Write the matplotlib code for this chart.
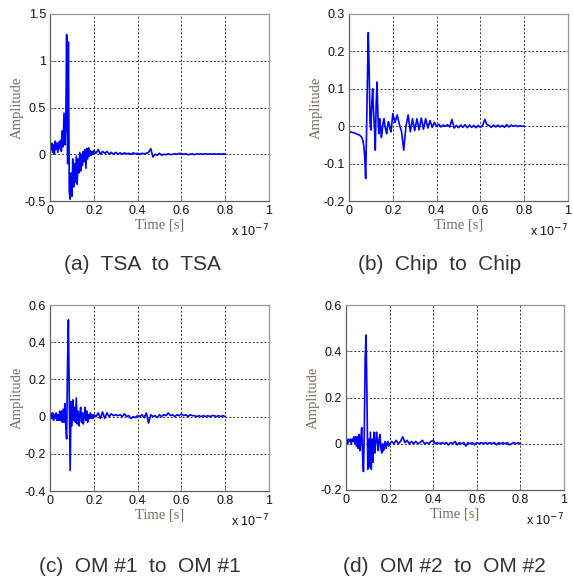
import numpy as np
import matplotlib
matplotlib.use("Agg")
import matplotlib.pyplot as plt

# time grid in units of 1e-7 s
t_early = np.round(np.arange(0, 51) * 0.004, 3)
t_late = np.round(0.21 + np.arange(0, 60) * 0.01, 3)
time = np.concatenate([t_early, t_late])

tsa_early = [0.10, 0.05, 0.12, 0.02, 0.10, 0.00, 0.14, 0.05, 0.12, 0.02,
             0.13, 0.06, 0.15, 0.03, 0.25, 0.08, 0.44, 0.10, 0.30, 1.28,
             -0.10, 1.20, -0.40, -0.48, -0.20, -0.45, -0.05, -0.35, -0.10, -0.30,
             -0.02, -0.32, -0.05, -0.20, 0.02, -0.18, 0.00, -0.12, 0.03, -0.08,
             0.05, -0.15, 0.06, -0.05, 0.07, -0.02, 0.04, -0.01, 0.03, 0.00, 0.04]
tsa_late = [0.01, 0.05, 0.0, 0.03, 0.01, 0.03, 0.0, 0.02, 0.0, 0.02,
            0.0, 0.015, 0.0, 0.015, 0.005, 0.01, 0.0, 0.015, 0.005, 0.01,
            0.0, 0.01, 0.005, 0.01, 0.02, 0.06, -0.03, 0.0, -0.01, 0.01,
            -0.01, 0.0, -0.005, 0.005, -0.005, 0.0, 0.005, 0.0, 0.01, 0.005,
            0.0, 0.005, -0.005, 0.0, 0.005, -0.005, 0.005, 0.0, 0.005, 0.0,
            0.005, 0.0, 0.005, 0.0, 0.005, 0.0, 0.005, 0.0, 0.005, 0.0]

chip_early = [-0.015, -0.015, -0.016, -0.016, -0.017, -0.017, -0.018, -0.019, -0.020, -0.021,
              -0.022, -0.023, -0.024, -0.026, -0.028, -0.032, -0.040, -0.055, -0.085, -0.140,
              -0.020, 0.120, 0.250, 0.150, 0.010, -0.010, 0.060, 0.100, 0.040, 0.000,
              -0.064, 0.060, 0.118, 0.030, -0.020, 0.020, 0.000, -0.030, -0.010, 0.010,
              0.020, 0.000, -0.010, -0.020, 0.000, 0.012, 0.005, -0.010, -0.015, 0.010, 0.034]
chip_late = [0.010, 0.030, 0.005, -0.015, -0.064, 0.000, 0.030, -0.015, 0.020, -0.012,
             0.020, -0.010, 0.022, -0.008, 0.020, -0.005, 0.015, -0.003, 0.010, 0.000,
             0.005, -0.002, 0.003, 0.000, 0.004, -0.002, 0.018, -0.005, 0.002, -0.004,
             0.003, -0.003, 0.004, -0.004, 0.003, -0.003, 0.002, -0.004, 0.002, -0.003,
             0.002, 0.018, 0.004, 0.002, -0.003, 0.003, -0.002, 0.003, -0.002, 0.002,
             -0.003, 0.004, -0.002, 0.003, 0.000, 0.002, -0.001, 0.001, 0.000, 0.000]

om1_early = [0.00, 0.02, -0.01, 0.02, -0.02, 0.01, -0.01, 0.02, -0.02, 0.01,
             -0.02, 0.03, -0.02, 0.03, -0.03, 0.04, -0.03, 0.07, -0.05, -0.12,
             0.28, 0.52, 0.10, -0.29, 0.08, -0.05, 0.09, -0.02, 0.05, -0.03,
             0.10, -0.04, 0.03, -0.05, 0.01, 0.05, -0.03, 0.02, -0.04, 0.00,
             0.05, -0.02, 0.03, -0.03, 0.01, -0.01, 0.02, -0.01, 0.01, -0.01, 0.01]
om1_late = [0.00, 0.02, -0.01, 0.025, -0.01, 0.02, 0.00, 0.015, 0.005, 0.01,
            0.005, 0.01, 0.00, 0.015, 0.00, 0.005, -0.01, 0.00, -0.005, 0.005,
            0.0, 0.01, -0.005, 0.02, -0.035, 0.01, 0.0, 0.005, -0.005, 0.01,
            0.0, 0.01, 0.005, 0.02, 0.005, 0.01, 0.0, 0.01, 0.005, 0.015,
            0.005, 0.01, 0.0, 0.01, 0.005, 0.005, 0.0, 0.005, 0.0, 0.005,
            0.0, 0.005, 0.0, 0.005, 0.005, 0.0, 0.005, 0.0, 0.005, 0.0]

om2_early = [0.01, 0.02, 0.00, 0.02, 0.01, 0.02, 0.00, 0.02, 0.01, 0.03,
             0.00, 0.03, -0.01, 0.03, -0.02, 0.04, -0.03, 0.02, 0.07, -0.05,
             -0.12, 0.05, 0.37, 0.47, 0.22, -0.11, 0.02, -0.10, 0.05, -0.11,
             0.02, -0.08, 0.05, -0.04, 0.00, 0.05, 0.01, -0.03, 0.02, 0.04,
             -0.02, -0.04, 0.00, -0.03, -0.01, 0.01, -0.02, 0.00, 0.01, -0.01, 0.00]
om2_late = [0.01, 0.00, 0.015, 0.0, 0.01, 0.03, 0.005, 0.015, 0.0, 0.01,
            0.0, 0.01, 0.0, 0.005, 0.015, 0.0, 0.005, 0.0, 0.01, 0.015,
            0.0, 0.005, 0.0, 0.005, 0.0, 0.005, -0.005, 0.005, 0.0, 0.01,
            -0.005, 0.005, 0.0, 0.005, -0.01, 0.005, 0.0, 0.005, -0.005, 0.005,
            0.0, 0.005, 0.0, 0.005, 0.0, 0.005, 0.0, 0.005, -0.005, 0.005,
            0.0, 0.005, 0.0, 0.005, -0.005, 0.0, 0.005, 0.0, 0.005, 0.0]

series = [tsa_early + tsa_late, chip_early + chip_late,
          om1_early + om1_late, om2_early + om2_late]
captions = ["(a)  TSA  to  TSA", "(b)  Chip  to  Chip",
            "(c)  OM #1  to  OM #1", "(d)  OM #2  to  OM #2"]
ylims = [(-0.5, 1.5), (-0.2, 0.3), (-0.4, 0.6), (-0.2, 0.6)]
yticks = [[-0.5, 0, 0.5, 1, 1.5],
          [-0.2, -0.1, 0, 0.1, 0.2, 0.3],
          [-0.4, -0.2, 0, 0.2, 0.4, 0.6],
          [-0.2, 0, 0.2, 0.4, 0.6]]
xticks = [0, 0.2, 0.4, 0.6, 0.8, 1]

W, H = 573, 583
fig = plt.figure(figsize=(W / 100, H / 100), dpi=100)
# axes boxes in pixels: left, top, right, bottom
boxes = [(50, 14, 269, 201), (349, 14, 568, 201),
         (50, 305, 269, 491), (346, 305, 564, 490)]
cap_pos = [(142, 265), (440, 265), (140, 567), (444, 567)]

def fmt(v):
    return "%g" % v

for i in range(4):
    l, tp, r, b = boxes[i]
    ax = fig.add_axes([l / W, 1 - b / H, (r - l) / W, (b - tp) / H])
    ax.plot(time, series[i], color="#0000ff", lw=1.2)
    ax.set_xlim(0, 1)
    ax.set_ylim(*ylims[i])
    ax.set_xticks(xticks)
    ax.set_xticklabels([fmt(v) for v in xticks])
    ax.set_yticks(yticks[i])
    ax.set_yticklabels([fmt(v) for v in yticks[i]])
    ax.grid(True, color="#333333", linestyle=(0, (2, 2)), lw=0.7)
    ax.tick_params(direction="in", length=3, width=0.6, color="#808080",
                   labelsize=9, pad=3, top=False, right=False)
    for lab in ax.get_xticklabels() + ax.get_yticklabels():
        lab.set_family("Liberation Sans")
        lab.set_color("#111111")
    for sp in ax.spines.values():
        sp.set_color("#999999")
        sp.set_linewidth(0.9)
    ax.spines["left"].set_color("#606060")
    ax.spines["bottom"].set_color("#606060")
    ax.set_ylabel("Amplitude", family="Liberation Serif", fontsize=10.5,
                  color="#7a6a5a")
    ax.yaxis.set_label_coords(-0.12, 0.5)
    ax.set_xlabel("Time [s]", family="Liberation Serif", fontsize=10.5,
                  color="#7a6a5a")
    ax.xaxis.set_label_coords(0.5, -0.095)
    ax.text(1.0, -0.115, r"x 10$^{-7}$", transform=ax.transAxes,
            ha="right", va="top", fontsize=9, family="Liberation Sans",
            color="#111111")
    cx, cy = cap_pos[i]
    fig.text(cx / W, 1 - cy / H, captions[i], ha="center", va="center",
             fontsize=15, family="Liberation Sans", color="#333333")

fig.savefig("out.png", dpi=100)
